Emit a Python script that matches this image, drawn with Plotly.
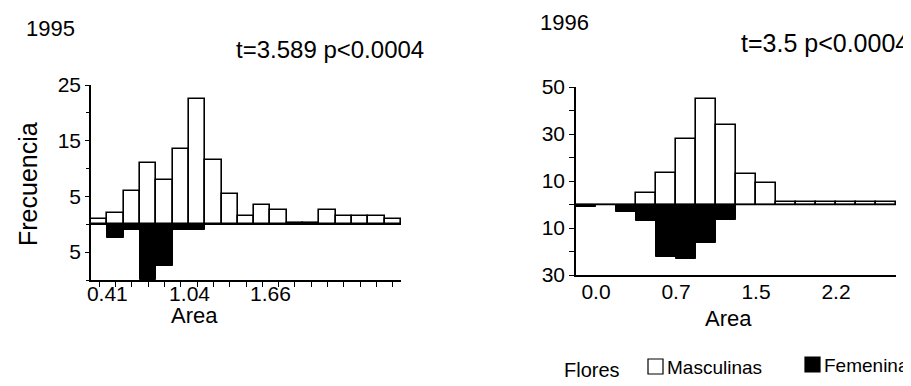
import plotly.graph_objects as go

# ---------------- data ----------------
# 1995 panel (Area bins, width 0.125)
bins_1995 = [0.285, 0.41, 0.535, 0.66, 0.785, 0.91, 1.035, 1.16, 1.285, 1.41,
             1.535, 1.66, 1.785, 1.91, 2.035, 2.16, 2.285, 2.41, 2.535]
masc_1995 = [1, 2, 6, 11, 8, 13.5, 22.5, 11.5, 5.5, 1.5,
             3.5, 2.5, 0.3, 0.3, 2.5, 1.5, 1.5, 1.5, 1]
fem_1995 = [0, 2.5, 1, 10, 7.5, 1, 1, 0, 0, 0,
            0, 0, 0, 0, 0, 0, 0, 0, 0]
width_1995 = 0.125
xticks_1995 = [0.41, 1.04, 1.66]
xticklabels_1995 = ["0.41", "1.04", "1.66"]
yticks_1995 = [25, 15, 5, -5]
yticklabels_1995 = ["25", "15", "5", "5"]

# 1996 panel (Area bins, width 0.1875)
bins_1996 = [-0.1875, 0, 0.1875, 0.375, 0.5625, 0.75, 0.9375, 1.125, 1.3125, 1.5,
             1.6875, 1.875, 2.0625, 2.25, 2.4375, 2.625]
masc_1996 = [0, 0, 0, 5, 13.5, 28, 45, 34, 13, 9,
             1, 1, 1, 1, 1, 1]
fem_1996 = [1, 0, 3.3, 7, 22.5, 23, 16.5, 6.7, 0, 0,
            0, 0, 0, 0, 0, 0]
width_1996 = 0.1875
xticks_1996 = [0, 0.75, 1.5, 2.25]
xticklabels_1996 = ["0.0", "0.7", "1.5", "2.2"]
yticks_1996 = [50, 30, 10, -10, -30]
yticklabels_1996 = ["50", "30", "10", "10", "30"]

legend_title = "Flores"
series_names = ["Masculinas", "Femeninas"]
series_fill = ["white", "black"]

FONT = "Liberation Sans, Arial, Helvetica, sans-serif"
W, H = 911, 386
TICK_SIZE = 21

fig = go.Figure()

def add_panel(bins, masc, fem, width, xa, ya):
    fig.add_trace(go.Bar(x=bins, y=masc, width=width, offset=0, xaxis=xa, yaxis=ya,
                         marker=dict(color=series_fill[0], line=dict(color="black", width=1.6)),
                         name=series_names[0], showlegend=False))
    fig.add_trace(go.Bar(x=bins, y=[-v for v in fem], width=width, offset=0, xaxis=xa, yaxis=ya,
                         marker=dict(color=series_fill[1], line=dict(color="black", width=1)),
                         name=series_names[1], showlegend=False))

add_panel(bins_1995, masc_1995, fem_1995, width_1995, "x", "y")
add_panel(bins_1996, masc_1996, fem_1996, width_1996, "x2", "y2")

def px_x(p):
    return p / W

def px_y(p):
    return 1 - p / H

axis_common = dict(showgrid=False, showline=True, linecolor="black", linewidth=1.5,
                   tickfont=dict(family=FONT, size=TICK_SIZE, color="black"),
                   zeroline=False, automargin=False)

fig.update_layout(
    width=W, height=H, autosize=False,
    margin=dict(l=0, r=0, t=0, b=0, pad=0),
    paper_bgcolor="white", plot_bgcolor="white",
    barmode="overlay", bargap=0,
    font=dict(family=FONT, color="black"),
    showlegend=False,
    xaxis=dict(domain=[px_x(83), px_x(393)], range=[0.285, 2.66], anchor="y",
               tickvals=xticks_1995, ticktext=xticklabels_1995,
               ticks="outside", ticklen=0, ticklabelstandoff=-6,
               minor=dict(tick0=0.3475, dtick=0.125, ticks="outside", ticklen=5,
                          tickcolor="black", showgrid=False),
               **axis_common),
    yaxis=dict(domain=[px_y(272), px_y(77)], range=[-10, 25], anchor="x",
               tickvals=yticks_1995, ticktext=yticklabels_1995,
               ticks="outside", ticklen=4, tickcolor="black",
               minor=dict(dtick=5, ticks="outside", ticklen=3, tickcolor="black", showgrid=False),
               **axis_common),
    xaxis2=dict(domain=[px_x(568), px_x(888)], range=[-0.1875, 2.8125], anchor="y2",
                tickvals=xticks_1996, ticktext=xticklabels_1996, ticks="",
                ticklabelstandoff=-3,
                **axis_common),
    yaxis2=dict(domain=[px_y(267), px_y(79)], range=[-30, 50], anchor="x2",
                tickvals=yticks_1996, ticktext=yticklabels_1996,
                ticks="outside", ticklen=5, tickcolor="black",
                minor=dict(dtick=10, ticks="outside", ticklen=5, tickcolor="black", showgrid=False),
                **axis_common),
)

# baselines at zero
fig.add_shape(type="line", xref="x", yref="y", x0=0.285, x1=2.66, y0=0, y1=0,
              line=dict(color="black", width=1.5))
fig.add_shape(type="line", xref="x2", yref="y2", x0=-0.1875, x1=2.8125, y0=0, y1=0,
              line=dict(color="black", width=1.5))

def note(text, x, y, size=22, xanchor="center", **kw):
    fig.add_annotation(text=text, x=px_x(x), y=px_y(y), xref="paper", yref="paper",
                       xanchor=xanchor, yanchor="middle", showarrow=False,
                       font=dict(family=FONT, size=size, color="black"), **kw)

note("1995", 42, 21, size=22)
note("1996", 556, 14, size=22)
note("t=3.589 p<0.0004", 322, 42, size=24)
note("t=3.5 p<0.0004", 817, 35, size=25)
note("Frecuencia", 20, 176, size=25, textangle=-90)
note("Area", 186, 307, size=22)
note("Area", 720, 310, size=22)

# legend (key boxes + labels)
note(legend_title, 584, 362, size=20)
key_left = [640, 797]
key_top = [351, 349]
for name, fill, kx, ky in zip(series_names, series_fill, key_left, key_top):
    fig.add_shape(type="rect", xref="paper", yref="paper",
                  x0=px_x(kx), x1=px_x(kx + 15), y0=px_y(ky + 15), y1=px_y(ky),
                  line=dict(color="black", width=1.2), fillcolor=fill)
    note(name, kx + 17, ky + 8, size=19, xanchor="left")

fig.write_html("out.html")
